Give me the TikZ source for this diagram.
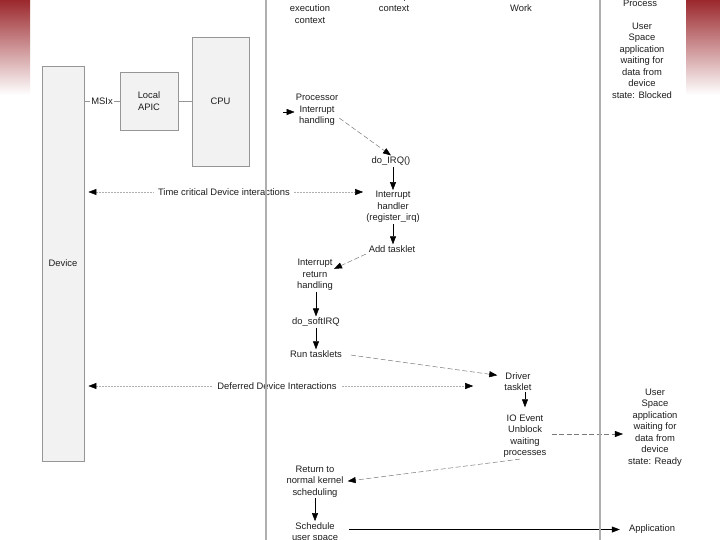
\documentclass[tikz,border=0pt]{standalone}
\usepackage{fontspec}
\setmainfont{Liberation Sans}
\usetikzlibrary{arrows.meta}
\definecolor{stripred}{RGB}{155,40,45}
\definecolor{txt}{RGB}{30,30,30}
\definecolor{boxfill}{RGB}{242,242,242}
\definecolor{boxline}{RGB}{150,150,150}
\definecolor{colline}{RGB}{175,175,175}
\definecolor{dashgray}{RGB}{120,120,120}
\begin{document}
\begin{tikzpicture}[x=1pt,y=-1pt,
  lbl/.style={font=\fontsize{9.4}{11.5}\selectfont, text=txt, align=center, inner sep=1pt},
  hw/.style={draw=boxline, fill=boxfill, line width=0.8pt},
  tip/.style={-{Triangle[length=8pt,width=6pt,color=black]}},
  arr/.style={tip, black, line width=0.5pt},
  dsh/.style={tip, draw=dashgray, line width=0.5pt, dash pattern=on 5pt off 2.5pt},
  dev/.style={{Triangle[length=8pt,width=6pt,color=black]}-{Triangle[length=8pt,width=6pt,color=black]}, draw=colline, line width=0.5pt, dash pattern=on 1.5pt off 1.5pt},
  wire/.style={draw=boxline, line width=0.6pt}
]
\useasboundingbox (0,0) rectangle (720,540);
\fill[white] (0,0) rectangle (720,540);
% red gradient strips
\shade[top color=stripred, bottom color=white] (0,0) rectangle (30,95);
\shade[top color=stripred, bottom color=white] (686,0) rectangle (720,95);

% hardware boxes
\node[hw, lbl, minimum width=42pt, minimum height=395pt] (device) at (63,263.5) {Device};
\node[hw, lbl, minimum width=58pt, minimum height=58pt] (apic) at (149,101) {Local\\APIC};
\node[hw, lbl, minimum width=57pt, minimum height=129pt] (cpu) at (220.5,101.5) {CPU};
\node[lbl] (msix) at (102,101) {MSIx};
\draw[wire] (device.east |- msix.west) -- (msix.west);
\draw[wire] (msix.east) -- (apic.west);
\draw[wire] (apic.east) -- (cpu.west |- apic.east);

% column headers
\node[lbl] (h1) at (310,14) {execution\\context};
\node[lbl] (h2) at (394,2.25) {Interrupt\\context};
\node[lbl] (h3) at (521,2.25) {Deferred\\Work};
\node[lbl] (h4) at (640,3) {Process};
\node[lbl] (blocked) at (642,60.5) {User\\Space\\application\\waiting for\\data from\\device\\state: Blocked};

% flow nodes
\node[lbl] (proc) at (317,110) {Processor\\Interrupt\\handling};
\node[lbl] (doirq) at (391,161) {do\_IRQ()};
\node[lbl] (ih) at (393,207) {Interrupt\\handler\\(register\_irq)};
\node[lbl] (addt) at (392,249) {Add tasklet};
\node[lbl] (irh) at (315,275) {Interrupt\\return\\handling};
\node[lbl] (dosoft) at (316,322) {do\_softIRQ};
\node[lbl] (runt) at (316,354) {Run tasklets};
\node[lbl] (drv) at (518,381.5) {Driver\\tasklet};
\node[lbl] (ioe) at (525,436) {IO Event\\Unblock\\waiting\\processes};
\node[lbl] (ready) at (655,427.5) {User\\Space\\application\\waiting for\\data from\\device\\state: Ready};
\node[lbl] (ret) at (315,481.5) {Return to\\normal kernel\\scheduling};
\node[lbl] (sched) at (315,532.5) {Schedule\\user space};
\node[lbl] (app) at (652,529.5) {Application};

% connectors
\coordinate (pin) at (283,112);
\draw[arr] (pin) -- (proc.west |- pin);
\draw[dsh] (proc.-20) -- (doirq.north);
\draw[arr] (doirq.south -| ih.north) -- (ih.north);
\draw[arr] (ih.south) -- (ih.south |- addt.north);
\draw[dsh, shorten <=2pt] (addt.-170) -- (irh.18);
\draw[arr] (irh.south -| dosoft.north) -- (dosoft.north);
\draw[arr] (dosoft.south) -- (dosoft.south |- runt.north);
\draw[dsh, shorten <=8pt, shorten >=6pt] (runt.east) -- (drv.160);
\draw[arr, shorten >=6pt] (drv.south -| ioe.north) -- (ioe.north);
\coordinate (rdy) at (600,434);
\draw[dsh, shorten <=4pt, shorten >=4pt] (ioe.east |- rdy) -- (ready.west |- rdy);
\draw[dsh, shorten <=3pt, shorten >=3pt] (ioe.-95) -- (ret.east);
\draw[arr] (ret.south) -- (ret.south |- sched.north);
\draw[arr, shorten <=10pt, shorten >=8pt] (sched.east |- app.west) -- (app.west);

% device interactions
\coordinate (tcpos) at (224,192);
\coordinate (ddpos) at (277,386);
\draw[dev, shorten <=4pt, shorten >=2pt] (device.east |- tcpos) -- (ih.west |- tcpos);
\draw[dev, shorten <=4pt, shorten >=30pt] (device.east |- ddpos) -- (drv.west |- ddpos);
\node[lbl, fill=white, inner xsep=4pt] (tc) at (tcpos) {Time critical Device interactions};
\node[lbl, fill=white, inner xsep=4pt] (dd) at (ddpos) {Deferred Device Interactions};

% column dividers
\draw[colline, line width=1.2pt] (266,0) -- (266,540);
\draw[colline, line width=1.2pt] (600,0) -- (600,540);
\end{tikzpicture}
\end{document}
